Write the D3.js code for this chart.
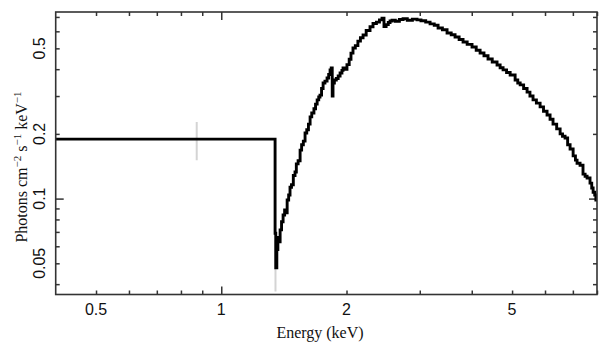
<!DOCTYPE html>
<html><head><meta charset="utf-8">
<script src="https://cdn.jsdelivr.net/npm/d3@7"></script>
<style>
html,body{margin:0;padding:0;background:#fff;}
svg{display:block;}
</style></head>
<body>
<svg id="chart" width="609" height="357"></svg>
<script>
// Bin start energies (keV) and unfolded flux values (photons cm^-2 s^-1 keV^-1)
const binStart = [0.40,1.347,1.352,1.360,1.368,1.376,1.385,1.396,1.408,1.420,1.430,1.440,1.452,1.463,1.475,1.490,1.504,1.515,1.530,1.547,1.560,1.575,1.590,1.605,1.620,1.635,1.650,1.670,1.685,1.700,1.715,1.727,1.742,1.757,1.775,1.796,1.812,1.826,1.838,1.848,1.856,1.870,1.890,1.910,1.930,1.950,1.962,1.985,2.005,2.030,2.050,2.073,2.100,2.130,2.160,2.192,2.230,2.278,2.316,2.360,2.400,2.434,2.461,2.490,2.520,2.545,2.573,2.620,2.680,2.735,2.800,2.880,2.955,3.020,3.100,3.176,3.250,3.320,3.400,3.489,3.570,3.647,3.730,3.812,3.900,4.006,4.100,4.189,4.280,4.377,4.480,4.601,4.680,4.757,4.850,4.947,5.085,5.160,5.229,5.330,5.433,5.520,5.615,5.720,5.839,5.950,6.068,6.170,6.272,6.400,6.523,6.610,6.704,6.800,6.893,7.010,7.100,7.164,7.284,7.404,7.490,7.573,7.697,7.770,7.830,7.900,7.950];
const flux = [0.189,0.069,0.0476,0.058,0.066,0.063,0.0715,0.078,0.0839,0.0886,0.086,0.0985,0.104,0.113,0.116,0.128,0.133,0.145,0.150,0.168,0.178,0.185,0.202,0.209,0.222,0.240,0.250,0.262,0.275,0.288,0.297,0.303,0.325,0.345,0.352,0.364,0.378,0.397,0.405,0.300,0.345,0.356,0.362,0.372,0.384,0.395,0.405,0.400,0.420,0.445,0.475,0.502,0.515,0.540,0.560,0.577,0.605,0.630,0.652,0.662,0.678,0.690,0.632,0.645,0.660,0.670,0.676,0.668,0.681,0.686,0.676,0.684,0.678,0.672,0.662,0.650,0.640,0.622,0.610,0.589,0.578,0.565,0.550,0.535,0.522,0.5075,0.490,0.476,0.462,0.446,0.432,0.418,0.406,0.397,0.386,0.376,0.356,0.345,0.338,0.325,0.313,0.300,0.288,0.278,0.267,0.255,0.245,0.234,0.222,0.211,0.200,0.195,0.1915,0.178,0.170,0.158,0.151,0.146,0.143,0.130,0.127,0.1247,0.118,0.112,0.107,0.104,0.0985];
const lastBinEnd = 8.05;

// Visible error bars (light grey)
const errEnergy = [0.873, 1.350];
const errLow = [0.151, 0.037];
const errHigh = [0.227, 0.064];

// Axes
const xDomain = [0.4, 8.0];
const yDomain = [0.0358, 0.738];
const xTicks = [0.5,0.6,0.7,0.8,0.9,1,2,3,4,5,6,7,8];
const xTickLabels = [0.5,1,2,5];
const yTicks = [0.04,0.05,0.06,0.07,0.08,0.09,0.1,0.2,0.3,0.4,0.5,0.6,0.7];
const yTickLabels = [0.05,0.1,0.2,0.5];
const xTitle = "Energy (keV)";

const L = 55.7, R = 597, T = 12, B = 294.5;
const svg = d3.select("#chart");
const x = d3.scaleLog().domain(xDomain).range([L, R]);
const y = d3.scaleLog().domain(yDomain).range([B, T]);

const frameColor = "#333";
const minorLen = 4, majorLen = 8;
const isMajorX = v => v === 1;
const isMajorY = v => Math.abs(v - 0.1) < 1e-9;

function styleAxis(g, majorFn, horizontal, sign) {
  g.select(".domain").remove();
  g.selectAll(".tick line").attr("stroke", frameColor).attr("stroke-width", 1.5)
    .each(function(d) {
      const len = (majorFn(d) ? majorLen : minorLen) * sign;
      d3.select(this).attr(horizontal ? "y2" : "x2", len);
    });
  g.selectAll(".tick text").remove();
}

svg.append("g").attr("transform", `translate(0,${B})`)
  .call(d3.axisBottom(x).tickValues(xTicks).tickSizeOuter(0))
  .call(g => styleAxis(g, isMajorX, true, -1));
svg.append("g").attr("transform", `translate(0,${T})`)
  .call(d3.axisTop(x).tickValues(xTicks).tickSizeOuter(0))
  .call(g => styleAxis(g, isMajorX, true, 1));
svg.append("g").attr("transform", `translate(${L},0)`)
  .call(d3.axisLeft(y).tickValues(yTicks).tickSizeOuter(0))
  .call(g => styleAxis(g, isMajorY, false, 1));
svg.append("g").attr("transform", `translate(${R},0)`)
  .call(d3.axisRight(y).tickValues(yTicks).tickSizeOuter(0))
  .call(g => styleAxis(g, isMajorY, false, -1));

// tick labels
svg.append("g").selectAll("text").data(xTickLabels).join("text")
  .attr("x", d => x(d)).attr("y", 315)
  .attr("text-anchor", "middle")
  .attr("font-family", "'Liberation Sans', Arial, sans-serif")
  .attr("font-size", 16).attr("fill", "#111")
  .text(d => d);
svg.append("g").selectAll("text").data(yTickLabels).join("text")
  .attr("transform", d => `translate(45,${y(d)}) rotate(-90)`)
  .attr("text-anchor", "middle")
  .attr("font-family", "'Liberation Sans', Arial, sans-serif")
  .attr("font-size", 16).attr("fill", "#111")
  .text(d => d);

// titles
svg.append("text").attr("x", 320).attr("y", 338)
  .attr("text-anchor", "middle")
  .attr("font-family", "'Liberation Serif', 'Times New Roman', serif")
  .attr("font-size", 16).attr("fill", "#111")
  .text(xTitle);

const yt = svg.append("text")
  .attr("transform", "translate(27,167) rotate(-90)")
  .attr("text-anchor", "middle")
  .attr("font-family", "'Liberation Serif', 'Times New Roman', serif")
  .attr("font-size", 16).attr("fill", "#111");
const parts = [["Photons cm", false], ["\u22122", true], [" s", false], ["\u22121", true], [" keV", false], ["\u22121", true]];
parts.forEach(([t, sup], i) => {
  yt.append("tspan")
    .attr("font-size", sup ? 11 : 16)
    .attr("dy", i === 0 ? 0 : (sup ? -6 : 6))
    .text(t);
});

// clip
svg.append("clipPath").attr("id", "clip").append("rect")
  .attr("x", L).attr("y", T).attr("width", R - L).attr("height", B - T);

// error bars
svg.append("g").attr("clip-path", "url(#clip)")
  .selectAll("line").data(errEnergy).join("line")
  .attr("x1", d => x(d)).attr("x2", d => x(d))
  .attr("y1", (d, i) => y(errLow[i])).attr("y2", (d, i) => y(errHigh[i]))
  .attr("stroke", "#d4d4d4").attr("stroke-width", 2);

// step line
const pts = binStart.map((e, i) => [e, flux[i]]);
pts.push([lastBinEnd, flux[flux.length - 1]]);
const line = d3.line().x(d => x(d[0])).y(d => y(d[1])).curve(d3.curveStepAfter);
svg.append("path").attr("clip-path", "url(#clip)")
  .attr("d", line(pts)).attr("fill", "none")
  .attr("stroke", "#000").attr("stroke-width", 2.9)
  .attr("stroke-linejoin", "miter");

// frame
svg.append("rect").attr("x", L).attr("y", T).attr("width", R - L).attr("height", B - T)
  .attr("fill", "none").attr("stroke", frameColor).attr("stroke-width", 1.6);
</script>
</body></html>
